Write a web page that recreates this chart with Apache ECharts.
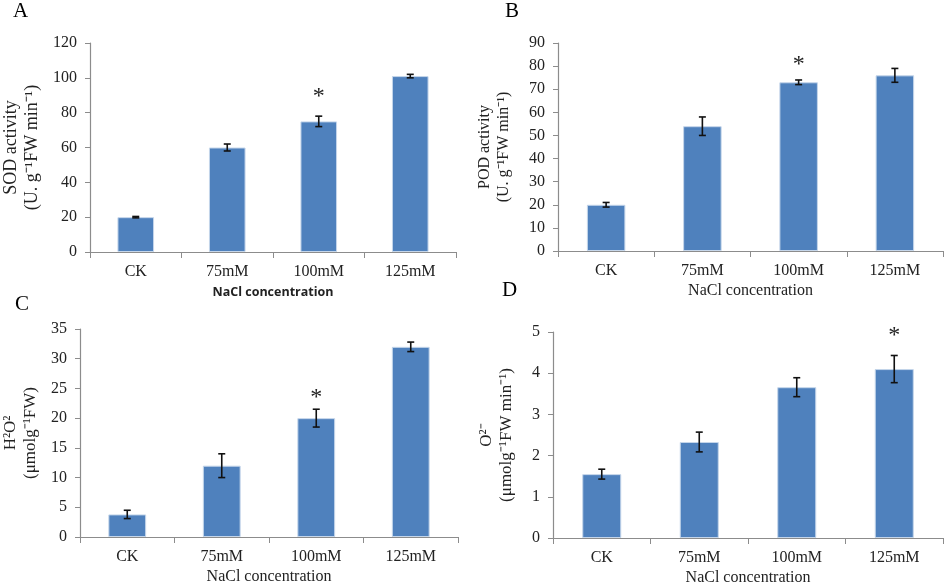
<!DOCTYPE html>
<html>
<head>
<meta charset="utf-8">
<script src="https://cdn.jsdelivr.net/npm/echarts@6/dist/echarts.min.js"></script>
<style>
html,body{margin:0;padding:0;background:#fff;}
#chart{width:945px;height:587px;}
</style>
</head>
<body>
<div id="chart"></div>
<script>
// ---- data ----
var categories = ['CK', '75mM', '100mM', '125mM'];

var sodValues = [20, 60, 75, 101];
var sodErrors = [0.4, 2, 3, 1];
var sodStars  = [null, null, 89, null];

var podValues = [20, 54, 73, 76];
var podErrors = [1, 4, 1, 3];
var podStars  = [null, null, 80.5, null];

var h2o2Values = [3.8, 12, 20, 32];
var h2o2Errors = [0.7, 2, 1.5, 0.8];
var h2o2Stars  = [null, null, 23.5, null];

var o2Values = [1.55, 2.33, 3.66, 4.1];
var o2Errors = [0.12, 0.24, 0.23, 0.33];
var o2Stars  = [null, null, null, 4.9];

var yTicksA = {max: 120, interval: 20};
var yTicksB = {max: 90, interval: 10};
var yTicksC = {max: 35, interval: 5};
var yTicksD = {max: 5, interval: 1};

var panels = [
  {letter: 'A', values: sodValues, errors: sodErrors, stars: sodStars, ticks: yTicksA,
   yname: 'SOD activity\n(U. g\u207B\u00B9FW min\u207B\u00B9)', xname: 'NaCl concentration', xbold: true,
   grid: {left: 88, top: 43, width: 368, height: 209}, nameGap: 47, ynameSize: 18},
  {letter: 'B', values: podValues, errors: podErrors, stars: podStars, ticks: yTicksB,
   yname: 'POD activity\n(U. g\u207B\u00B9FW min\u207B\u00B9)', xname: 'NaCl concentration', xbold: false,
   grid: {left: 558, top: 43, width: 385, height: 208}, nameGap: 45, ynameSize: 16},
  {letter: 'C', values: h2o2Values, errors: h2o2Errors, stars: h2o2Stars, ticks: yTicksC,
   yname: 'H\u00B2O\u00B2\n(\u03BCmolg\u207B\u00B9FW)', xname: 'NaCl concentration', xbold: false,
   grid: {left: 76, top: 329, width: 382, height: 208}, nameGap: 39, ynameSize: 17},
  {letter: 'D', values: o2Values, errors: o2Errors, stars: o2Stars, ticks: yTicksD,
   yname: 'O\u00B2\u207B\n(\u03BCmolg\u207B\u00B9FW min\u207B\u00B9)', xname: 'NaCl concentration', xbold: false,
   grid: {left: 553, top: 332, width: 390, height: 207}, nameGap: 36, ynameSize: 17}
];

var letterPos = [[13, 1], [505, 1], [15, 294], [502, 280]];

var serif = '"Liberation Serif", "Times New Roman", serif';
var axisColor = '#8c8c8c';

var grids = [], xAxes = [], yAxes = [], series = [], titles = [];

panels.forEach(function (p, i) {
  grids.push(Object.assign({containLabel: false}, p.grid));
  titles.push({
    text: p.letter, left: letterPos[i][0], top: letterPos[i][1], padding: 0,
    textStyle: {fontFamily: serif, fontSize: 21, fontWeight: 'normal', color: '#000'}
  });
  xAxes.push({
    type: 'category', gridIndex: i, data: categories,
    boundaryGap: true,
    axisLine: {lineStyle: {color: axisColor, width: 1.2}},
    axisTick: {show: true, alignWithLabel: false, length: 6, lineStyle: {color: axisColor}},
    axisLabel: {fontFamily: serif, fontSize: 16, color: '#222', margin: 12},
    name: p.xname, nameLocation: 'middle', nameGap: p.xbold ? 34 : 32,
    nameTextStyle: p.xbold
      ? {fontFamily: '"Open Sans", "Noto Sans", sans-serif', fontWeight: 'bold', fontSize: 12.5, color: '#222'}
      : {fontFamily: serif, fontSize: 16, color: '#222'}
  });
  yAxes.push({
    type: 'value', gridIndex: i, min: 0, max: p.ticks.max, interval: p.ticks.interval,
    splitLine: {show: false},
    axisLine: {show: true, lineStyle: {color: axisColor, width: 1.2}},
    axisTick: {show: true, length: 5, lineStyle: {color: axisColor}},
    axisLabel: {fontFamily: serif, fontSize: 16, color: '#222', margin: 13},
    name: p.yname, nameLocation: 'middle', nameRotate: 90, nameGap: p.nameGap,
    nameTextStyle: {fontFamily: serif, fontSize: p.ynameSize, color: '#222', lineHeight: p.ynameSize + 3}
  });
  series.push({
    type: 'bar', xAxisIndex: i, yAxisIndex: i, data: p.values, barWidth: '40%',
    itemStyle: {color: '#4F81BD', borderColor: '#c5d6ea', borderWidth: 1},
    silent: true
  });
  var errData = p.values.map(function (v, k) { return [k, v - p.errors[k], v + p.errors[k]]; });
  series.push({
    type: 'custom', xAxisIndex: i, yAxisIndex: i, data: errData, silent: true,
    renderItem: function (params, api) {
      var lo = api.coord([api.value(0), api.value(1)]);
      var hi = api.coord([api.value(0), api.value(2)]);
      var hw = 3.5;
      var st = {stroke: '#111', lineWidth: 1.6};
      return {type: 'group', children: [
        {type: 'line', shape: {x1: lo[0], y1: lo[1], x2: hi[0], y2: hi[1]}, style: st},
        {type: 'line', shape: {x1: lo[0] - hw, y1: lo[1], x2: lo[0] + hw, y2: lo[1]}, style: st},
        {type: 'line', shape: {x1: hi[0] - hw, y1: hi[1], x2: hi[0] + hw, y2: hi[1]}, style: st}
      ]};
    },
    z: 5
  });
  var starData = [];
  p.stars.forEach(function (s, k) { if (s !== null) starData.push([k, s]); });
  series.push({
    type: 'custom', xAxisIndex: i, yAxisIndex: i, data: starData, silent: true, clip: false,
    renderItem: function (params, api) {
      var c = api.coord([api.value(0), api.value(1)]);
      return {type: 'text', x: c[0], y: c[1], style: {
        text: '*', fontFamily: serif, fontSize: 24, fill: '#222',
        align: 'center', verticalAlign: 'middle'}};
    },
    z: 6
  });
});

var chart = echarts.init(document.getElementById('chart'), null, {renderer: 'canvas'});
chart.setOption({
  animation: false,
  backgroundColor: '#ffffff',
  title: titles,
  grid: grids,
  xAxis: xAxes,
  yAxis: yAxes,
  series: series
});
</script>
</body>
</html>
